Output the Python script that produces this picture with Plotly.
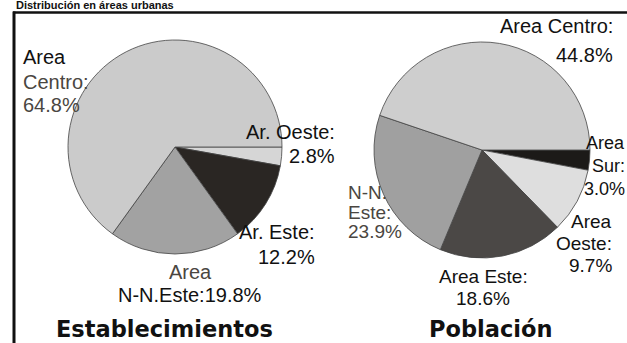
import plotly.graph_objects as go

W, H = 627, 343

# Distribución de establecimientos por área (%)
est_areas = ["Ar. Oeste", "Ar. Este", "N-N.Este", "Centro"]
est_values = [2.8, 12.2, 19.8, 64.8]
est_colors = ["#d6d6d6", "#2a2623", "#a2a2a2", "#cbcbcb"]

# Distribución de la población por área (%)
pob_areas = ["Sur", "Oeste", "Este", "N-N.Este", "Centro"]
pob_values = [3.0, 9.7, 18.6, 23.9, 44.8]
pob_colors = ["#1c1a18", "#dedede", "#4b4846", "#a0a0a0", "#cecece"]

titles = ["Establecimientos", "Población"]


def px(x):
    return x / W


def py(y):
    return 1 - y / H


fig = go.Figure()

fig.add_trace(go.Pie(
    labels=est_areas, values=est_values, sort=False, direction="clockwise",
    rotation=90, textinfo="none", hoverinfo="label+percent",
    marker=dict(colors=est_colors, line=dict(color="#444444", width=0.8)),
    domain=dict(x=[px(68), px(282)], y=[py(254), py(40)]),
    showlegend=False,
))
fig.add_trace(go.Pie(
    labels=pob_areas, values=pob_values, sort=False, direction="clockwise",
    rotation=90, textinfo="none", hoverinfo="label+percent",
    marker=dict(colors=pob_colors, line=dict(color="#444444", width=0.8)),
    domain=dict(x=[px(374), px(590)], y=[py(258), py(42)]),
    showlegend=False,
))

FAMILY = "Liberation Sans, Arial, sans-serif"
BLACK = "#111111"
GRAY = "#4a4641"


def pct(v):
    return f"{v:.1f}%"


e = dict(zip(est_areas, est_values))
p = dict(zip(pob_areas, pob_values))

# each label: list of (text, color), anchor x, line centres, alignment, font size
labels = [
    # Establecimientos
    ([("Area", BLACK), ("Centro:", GRAY), (pct(e["Centro"]), GRAY)], 22, [55, 80, 104], "left", 20),
    ([("Ar. Oeste:", BLACK), (pct(e["Ar. Oeste"]), BLACK)], 336, [130, 154], "right", 20),
    ([("Ar. Este:", BLACK), (pct(e["Ar. Este"]), BLACK)], 316, [230.5, 255], "right", 20),
    ([("Area", GRAY), ("N-N.Este:" + pct(e["N-N.Este"]), BLACK)], 190, [270, 293.5], "center", 20),
    # Población
    ([("Area Centro:", BLACK), (pct(p["Centro"]), BLACK)], 614, [25, 53.5], "right", 20),
    ([("Area", BLACK), ("Sur:", BLACK), (pct(p["Sur"]), BLACK)], 626, [141, 164, 187], "right", 18),
    ([("Area", BLACK), ("Oeste:", BLACK), (pct(p["Oeste"]), BLACK)], 613, [220, 242, 264], "right", 19),
    ([("Area Este:", BLACK), (pct(p["Este"]), BLACK)], 483, [274.5, 297], "center", 19),
    ([("N-N.", GRAY), ("Este:", GRAY), (pct(p["N-N.Este"]), GRAY)], 347, [191, 210.5, 230], "left", 19),
]

for lines, x, ys, align, size in labels:
    for (text, color), y in zip(lines, ys):
        fig.add_annotation(
            text=text, x=px(x), y=py(y + 1.5), xref="paper", yref="paper",
            xanchor=align, yanchor="middle", align=align, showarrow=False,
            font=dict(family=FAMILY, size=size, color=color), borderpad=0,
        )

TTL = dict(family="DejaVu Sans, Verdana, sans-serif", size=22.5, color=BLACK)
for t, x in zip(titles, [164, 490]):
    fig.add_annotation(
        text=f"<b>{t}</b>", x=px(x), y=py(343), xref="paper", yref="paper",
        xanchor="center", yanchor="bottom", showarrow=False, font=TTL,
        borderpad=0,
    )

# encabezado del recuadro, encima de la línea superior
fig.add_annotation(
    text="<b>Distribución en áreas urbanas</b>", x=px(15), y=py(12),
    xref="paper", yref="paper", xanchor="left", yanchor="bottom",
    showarrow=False, borderpad=0,
    font=dict(family=FAMILY, size=11, color=BLACK),
)

# recuadro: línea superior e izquierda
fig.add_shape(type="line", xref="paper", yref="paper",
              x0=px(13), x1=1, y0=py(12.5), y1=py(12.5),
              line=dict(color=BLACK, width=2.5))
fig.add_shape(type="line", xref="paper", yref="paper",
              x0=px(14), x1=px(14), y0=py(11.5), y1=0,
              line=dict(color=BLACK, width=3))

fig.update_layout(
    width=W, height=H, margin=dict(l=0, r=0, t=0, b=0),
    paper_bgcolor="white", plot_bgcolor="white",
)

fig.write_html("out.html")
